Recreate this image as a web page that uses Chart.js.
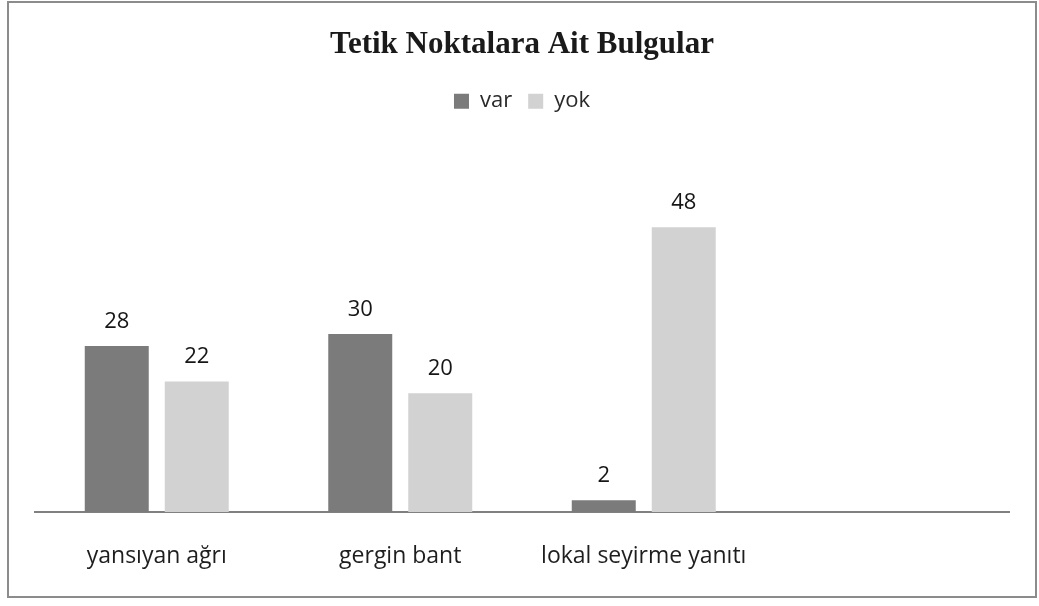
<!DOCTYPE html>
<html>
<head>
<meta charset="utf-8">
<script src="https://cdn.jsdelivr.net/npm/chart.js@4.4.1/dist/chart.umd.min.js"></script>
<style>
  body { margin: 0; background: #fff; }
  #frame {
    position: absolute;
    left: 7px;
    top: 1px;
    width: 1026px;
    height: 593px;
    border: 2px solid #8c8c8c;
    background: #fff;
  }
  canvas { display: block; }
</style>
</head>
<body>
<div id="frame">
  <canvas id="chartCanvas" width="1026" height="593"></canvas>
</div>
<script>
const categories = ["yansıyan ağrı", "gergin bant", "lokal seyirme yanıtı", ""];
const varValues = [28, 30, 2];
const yokValues = [22, 20, 48];
const seriesNames = ["var", "yok"];

document.addEventListener("DOMContentLoaded", function () {
    const chartCanvas = document.getElementById("chartCanvas");

    Chart.defaults.font.family = "'Open Sans', sans-serif";
    Chart.defaults.color = "#1e1e1e";

    // values over the bars
    const valueLabels = {
        id: "valueLabels",
        afterDatasetsDraw(chart) {
            const ctx = chart.ctx;
            ctx.save();
            ctx.font = "22px 'Open Sans', sans-serif";
            ctx.fillStyle = "#161616";
            ctx.textAlign = "center";
            ctx.textBaseline = "alphabetic";
            chart.data.datasets.forEach((ds, i) => {
                chart.getDatasetMeta(i).data.forEach((bar, j) => {
                    const v = ds.data[j];
                    if (v === undefined || v === null) return;
                    ctx.fillText(String(v), bar.x, bar.y - 18);
                });
            });
            ctx.restore();
        }
    };

    new Chart(chartCanvas, {
        type: "bar",
        data: {
            labels: categories,
            datasets: [{
                label: seriesNames[0],
                data: varValues,
                backgroundColor: "#7b7b7b",
                borderWidth: 0,
                categoryPercentage: 0.657,
                barPercentage: 0.8
            }, {
                label: seriesNames[1],
                data: yokValues,
                backgroundColor: "#d2d2d2",
                borderWidth: 0,
                categoryPercentage: 0.657,
                barPercentage: 0.8
            }]
        },
        options: {
            responsive: false,
            animation: false,
            layout: {
                padding: { left: 26, right: 26, top: 0, bottom: 0 }
            },
            plugins: {
                title: {
                    display: true,
                    text: "Tetik Noktalara Ait Bulgular",
                    color: "#1a1a1a",
                    font: { family: "'Liberation Serif', 'Times New Roman', serif", size: 31, weight: "bold" },
                    padding: { top: 23, bottom: 11 }
                },
                legend: {
                    display: true,
                    labels: {
                        color: "#2a2a2a",
                        font: { size: 22 },
                        boxWidth: 15,
                        boxHeight: 15,
                        padding: 16
                    }
                },
                tooltip: { enabled: false }
            },
            scales: {
                x: {
                    grid: { display: false, drawTicks: false },
                    border: { display: true, color: "#808080", width: 2 },
                    ticks: {
                        color: "#1e1e1e",
                        font: { size: 23 },
                        padding: 31,
                        maxRotation: 0,
                        autoSkip: false
                    },
                    afterFit(scale) { scale.height = 84; }
                },
                y: {
                    display: false,
                    min: 0,
                    max: 65.7
                }
            }
        },
        plugins: [valueLabels]
    });
});
</script>
</body>
</html>
